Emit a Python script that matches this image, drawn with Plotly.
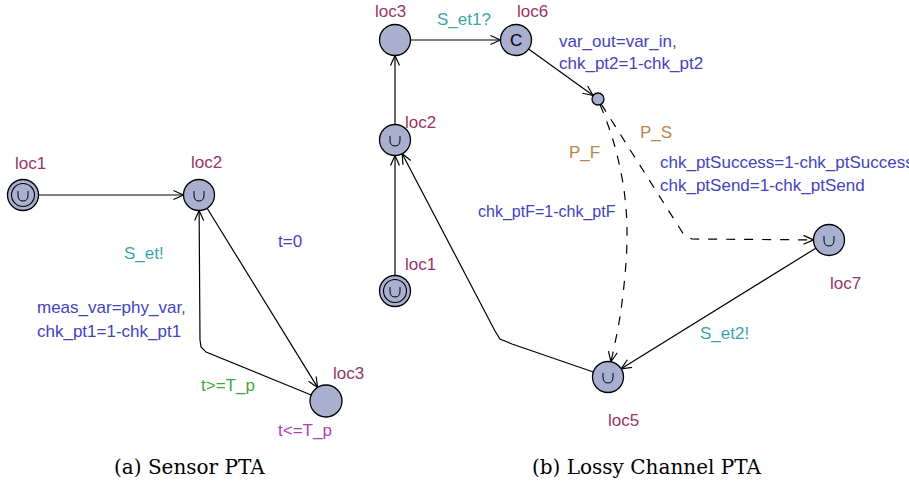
import math
import plotly.graph_objects as go

# ---------------- data ----------------
node_ids   = ["a_loc1", "a_loc2", "a_loc3", "b_loc1", "b_loc2", "b_loc3", "b_loc6", "b_loc5", "b_loc7", "b_br"]
node_x     = [23, 199, 326, 395, 395, 395, 516, 608, 829, 598]
node_y     = [195, 195, 401, 291, 140, 40, 40, 377, 240, 99]
node_r     = [15.5, 15.5, 16, 15.5, 15.5, 15.5, 15.5, 15.5, 15.5, 6]
node_kind  = ["init_urgent", "urgent", "normal", "init_urgent", "urgent", "normal", "committed", "urgent", "urgent", "branch"]

name_text  = ["loc1", "loc2", "loc3", "loc1", "loc2", "loc3", "loc6", "loc5", "loc7"]
name_x     = [30, 206, 348, 420, 420, 390, 532, 623, 845]
name_y     = [163, 162, 373, 264, 122, 11, 11, 420, 283]

edge_src   = ["a_loc1", "a_loc2", "a_loc3", "b_loc1", "b_loc2", "b_loc3", "b_loc6", "b_br", "b_br", "b_loc7", "b_loc5"]
edge_dst   = ["a_loc2", "a_loc3", "a_loc2", "b_loc2", "b_loc3", "b_loc6", "b_br", "b_loc5", "b_loc7", "b_loc5", "b_loc2"]
edge_via   = [[], [], [(206, 352), (201, 347), (200, 340)], [], [], [], [],
              [(613, 140), (624, 190), (627, 240), (621, 310)],
              [(679, 228), (684, 235), (692, 239)], [],
              [(512, 344), (500, 339), (495, 331)]]
edge_dash  = [False, False, False, False, False, False, False, True, True, False, False]
edge_curve = [False, False, False, False, False, False, False, True, False, False, False]

label_text  = ["S_et!", "t=0", "meas_var=phy_var,", "chk_pt1=1-chk_pt1", "t>=T_p", "t<=T_p",
               "S_et1?", "var_out=var_in,", "chk_pt2=1-chk_pt2", "P_F", "P_S",
               "chk_ptSuccess=1-chk_ptSuccess,", "chk_ptSend=1-chk_ptSend", "chk_ptF=1-chk_ptF", "S_et2!"]
label_x     = [122, 276, 35, 35, 199, 276, 435, 557, 557, 567, 638, 658, 658, 476, 698]
label_y     = [253, 241, 307, 331, 385, 430, 19, 41, 63, 152, 132, 162, 185, 212, 333]
label_size  = [17, 17, 17, 17, 17, 17, 17, 17, 17, 17, 17, 17, 17, 16, 17]
label_kind  = ["sync", "update", "update", "update", "guard", "invariant", "sync", "update", "update",
               "prob", "prob", "update", "update", "update", "sync"]

captions    = ["(a) Sensor PTA", "(b) Lossy Channel PTA"]
caption_x   = [189, 646]
caption_y   = [467, 467]

# ---------------- styles ----------------
NODE_FILL = "#A8AFCF"
NAME_COL = "#993366"
KIND_COL = {"sync": "#3AA6A6", "update": "#4343BE", "guard": "#3DAA3D",
            "invariant": "#B33DB3", "prob": "#B8864B"}
FONT = "Liberation Sans, Arial, sans-serif"
FS = 17

pos = {n: (x, y, r) for n, x, y, r in zip(node_ids, node_x, node_y, node_r)}

fig = go.Figure()


def unit(ax, ay, bx, by):
    d = math.hypot(bx - ax, by - ay)
    return (bx - ax) / d, (by - ay) / d


arrow_x, arrow_y = [], []
for s, t, via, dash, curve in zip(edge_src, edge_dst, edge_via, edge_dash, edge_curve):
    sx, sy, sr = pos[s]
    tx, ty, tr = pos[t]
    first = via[0] if via else (tx, ty)
    last = via[-1] if via else (sx, sy)
    ux, uy = unit(sx, sy, first[0], first[1])
    p0 = (sx + ux * sr, sy + uy * sr)
    vx, vy = unit(last[0], last[1], tx, ty)
    p1 = (tx - vx * tr, ty - vy * tr)
    pts = [p0] + list(via) + [p1]
    fig.add_trace(go.Scatter(
        x=[p[0] for p in pts], y=[p[1] for p in pts], mode="lines",
        line=dict(color="black", width=1.2, dash="dash" if dash else "solid",
                  shape="spline" if curve else "linear", smoothing=1.0),
        hoverinfo="skip"))
    # open V arrowhead
    L, ang = 11, math.radians(24)
    for sgn in (-1, 1):
        ca, sa = math.cos(sgn * ang), math.sin(sgn * ang)
        bx = -vx * ca + vy * sa
        by = -vx * sa - vy * ca
        arrow_x += [p1[0] + bx * L, p1[0], None]
        arrow_y += [p1[1] + by * L, p1[1], None]

fig.add_trace(go.Scatter(x=arrow_x, y=arrow_y, mode="lines",
                         line=dict(color="black", width=1.2), hoverinfo="skip"))

shapes = []
annotations = []
for n, x, y, r, k in zip(node_ids, node_x, node_y, node_r, node_kind):
    shapes.append(dict(type="circle", xref="x", yref="y", x0=x - r, x1=x + r, y0=y - r, y1=y + r,
                       fillcolor=NODE_FILL, line=dict(color="black", width=1.3), layer="above"))
    if k == "init_urgent":
        ri = 11.5
        shapes.append(dict(type="circle", xref="x", yref="y", x0=x - ri, x1=x + ri, y0=y - ri, y1=y + ri,
                           fillcolor="rgba(0,0,0,0)", line=dict(color="black", width=1.1), layer="above"))
    if k in ("urgent", "init_urgent"):
        path = (f"M {x-5},{y-4} L {x-5},{y} Q {x-5},{y+6} {x},{y+6} "
                f"Q {x+5},{y+6} {x+5},{y} L {x+5},{y-4}")
        shapes.append(dict(type="path", xref="x", yref="y", path=path,
                           line=dict(color="black", width=1.0), layer="above"))
    if k == "committed":
        annotations.append(dict(x=x, y=y, xref="x", yref="y", text="C", showarrow=False,
                                font=dict(family=FONT, size=17, color="black"),
                                xanchor="center", yanchor="middle"))

for t, x, y in zip(name_text, name_x, name_y):
    annotations.append(dict(x=x, y=y, xref="x", yref="y", text=t, showarrow=False,
                            font=dict(family=FONT, size=FS, color=NAME_COL),
                            xanchor="center", yanchor="middle"))

for t, x, y, k, fs in zip(label_text, label_x, label_y, label_kind, label_size):
    annotations.append(dict(x=x, y=y, xref="x", yref="y", text=t, showarrow=False,
                            font=dict(family=FONT, size=fs, color=KIND_COL[k]),
                            xanchor="left", yanchor="middle"))

for t, x, y in zip(captions, caption_x, caption_y):
    annotations.append(dict(x=x, y=y, xref="x", yref="y", text=t, showarrow=False,
                            font=dict(family="DejaVu Serif, serif", size=20, color="black"),
                            xanchor="center", yanchor="middle"))

fig.update_layout(
    width=909, height=486, margin=dict(l=0, r=0, t=0, b=0),
    paper_bgcolor="white", plot_bgcolor="white", showlegend=False,
    xaxis=dict(range=[0, 909], visible=False, fixedrange=True),
    yaxis=dict(range=[486, 0], visible=False, fixedrange=True),
    shapes=shapes, annotations=annotations,
)

fig.write_html("out.html", config={"displayModeBar": False},
               post_script="document.body.style.margin='0';document.body.style.overflow='hidden';")
